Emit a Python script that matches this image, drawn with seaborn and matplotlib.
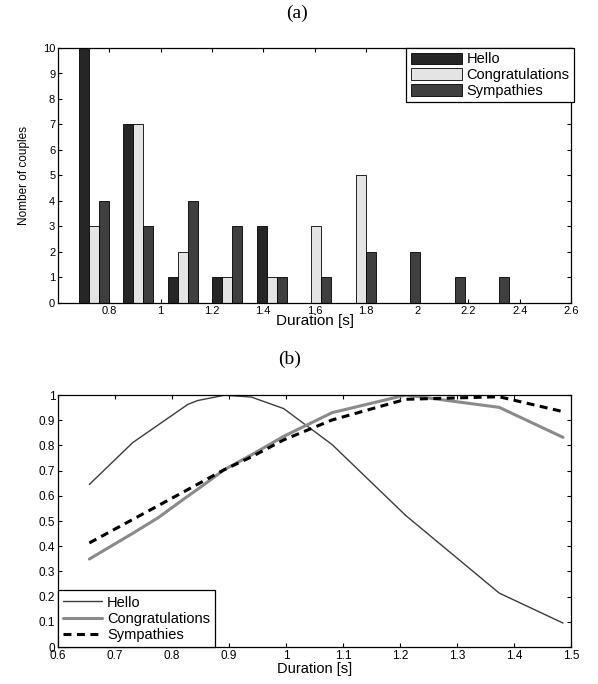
import numpy as np
import pandas as pd
import matplotlib
matplotlib.use("Agg")
import matplotlib.pyplot as plt
from matplotlib.patches import Patch
from matplotlib.ticker import FuncFormatter, FixedLocator
import seaborn as sns

# ---------------- data (a) ----------------
bin_centers = [0.740, 0.913, 1.087, 1.260, 1.433, 1.607, 1.780, 1.953, 2.127, 2.300]
hello_counts = [10, 7, 1, 1, 3, 0, 0, 0, 0, 0]
congrats_counts = [3, 7, 2, 1, 1, 3, 5, 0, 0, 0]
sympathy_counts = [4, 3, 4, 3, 1, 1, 2, 2, 1, 1]
series_names = ["Hello", "Congratulations", "Sympathies"]
xticks_a = [0.8, 1.0, 1.2, 1.4, 1.6, 1.8, 2.0, 2.2, 2.4, 2.6]
yticks_a = list(range(0, 11))

# ---------------- data (b) ----------------
dur_b = [0.655, 0.731, 0.775, 0.828, 0.845, 0.892, 0.939, 0.996, 1.081, 1.210, 1.374, 1.486]
hello_b = [0.645, 0.811, 0.880, 0.963, 0.978, 0.999, 0.992, 0.946, 0.803, 0.522, 0.214, 0.095]
congrats_b = [0.349, 0.451, 0.512, 0.599, 0.626, 0.704, 0.762, 0.836, 0.930, 1.000, 0.951, 0.832]
sympathy_b = [0.413, 0.506, 0.560, 0.625, 0.646, 0.704, 0.754, 0.822, 0.901, 0.983, 0.993, 0.934]
xticks_b = [0.6, 0.7, 0.8, 0.9, 1.0, 1.1, 1.2, 1.3, 1.4, 1.5]
yticks_b = [0.0, 0.1, 0.2, 0.3, 0.4, 0.5, 0.6, 0.7, 0.8, 0.9, 1.0]

sns.set_style("ticks")
plt.rcParams["font.family"] = ["Liberation Sans", "DejaVu Sans"]
plt.rcParams["xtick.direction"] = "in"
plt.rcParams["ytick.direction"] = "in"
plt.rcParams["xtick.top"] = True
plt.rcParams["ytick.right"] = True
plt.rcParams["axes.linewidth"] = 0.9
plt.rcParams["xtick.major.width"] = 0.8
plt.rcParams["ytick.major.width"] = 0.8
plt.rcParams["xtick.major.size"] = 3.2
plt.rcParams["ytick.major.size"] = 3.2
plt.rcParams["axes.edgecolor"] = "black"
plt.rcParams["xtick.color"] = "black"
plt.rcParams["ytick.color"] = "black"
plt.rcParams["text.color"] = "black"
plt.rcParams["axes.labelcolor"] = "black"

fig = plt.figure(figsize=(5.98, 6.84), dpi=100)
W, H = 598.0, 684.0
ax1 = fig.add_axes([58 / W, 1 - 303 / H, (571 - 58) / W, (303 - 48) / H])
ax2 = fig.add_axes([58 / W, 1 - 647 / H, (571 - 58) / W, (647 - 395) / H])

fmt = FuncFormatter(lambda v, p: "%g" % round(v, 3))

# ---------------- (a) grouped bars ----------------
colors_a = {"Hello": "#262626", "Congratulations": "#e4e4e4", "Sympathies": "#3f3f3f"}
df_a = pd.DataFrame({
    "center": np.tile(bin_centers, 3),
    "count": hello_counts + congrats_counts + sympathy_counts,
    "series": np.repeat(series_names, len(bin_centers)),
})
sns.barplot(data=df_a, x="center", y="count", hue="series", hue_order=series_names,
            palette=colors_a, native_scale=True, width=0.675, gap=0, saturation=1,
            edgecolor="black", linewidth=0.6, legend=False, ax=ax1)
ax1.set_xlim(0.6, 2.6)
ax1.set_ylim(0, 10)
ax1.xaxis.set_major_locator(FixedLocator(xticks_a))
ax1.yaxis.set_major_locator(FixedLocator(yticks_a))
ax1.xaxis.set_major_formatter(fmt)
ax1.yaxis.set_major_formatter(fmt)
ax1.tick_params(labelsize=8, pad=2)
ax1.set_xlabel("Duration [s]", fontsize=11, labelpad=-1)
ax1.set_ylabel("Nomber of couples", fontsize=8.5, labelpad=9)
handles_a = [Patch(facecolor=colors_a[n], edgecolor="black", linewidth=0.6) for n in series_names]
leg1 = ax1.legend(handles_a, series_names, loc="upper right", bbox_to_anchor=(1.006, 1.0),
                  borderaxespad=0, fontsize=10.5, handlelength=3.5, handleheight=0.85,
                  handletextpad=0.35, labelspacing=0.12, borderpad=0.3,
                  fancybox=False, framealpha=1, edgecolor="black")
leg1.get_frame().set_linewidth(0.9)

# ---------------- (b) lines ----------------
sns.lineplot(x=dur_b, y=hello_b, color="#3c3c3c", linewidth=1.0, label="Hello", ax=ax2)
sns.lineplot(x=dur_b, y=congrats_b, color="#8a8a8a", linewidth=2.2, label="Congratulations", ax=ax2)
sns.lineplot(x=dur_b, y=sympathy_b, color="black", linewidth=2.2, label="Sympathies",
             linestyle=(0, (2.6, 1.8)), ax=ax2)
ax2.set_xlim(0.6, 1.5)
ax2.set_ylim(0, 1)
ax2.xaxis.set_major_locator(FixedLocator(xticks_b))
ax2.yaxis.set_major_locator(FixedLocator(yticks_b))
ax2.xaxis.set_major_formatter(fmt)
ax2.yaxis.set_major_formatter(fmt)
ax2.tick_params(labelsize=8.5, pad=2)
ax2.set_xlabel("Duration [s]", fontsize=10.5, labelpad=0)
ax2.set_ylabel("")
leg2 = ax2.legend(loc="lower left", borderaxespad=0, fontsize=10.5, handlelength=2.7,
                  handletextpad=0.3, labelspacing=0.15, borderpad=0.35,
                  fancybox=False, framealpha=1, edgecolor="black")
leg2.get_frame().set_linewidth(0.9)

# ---------------- panel titles ----------------
fig.text(0.496, 1 - 13 / H, "(a)", ha="center", va="center", fontsize=14,
         family=["Liberation Serif", "DejaVu Serif"])
fig.text(0.485, 1 - 359 / H, "(b)", ha="center", va="center", fontsize=14,
         family=["Liberation Serif", "DejaVu Serif"])

fig.savefig("out.png", dpi=100)
